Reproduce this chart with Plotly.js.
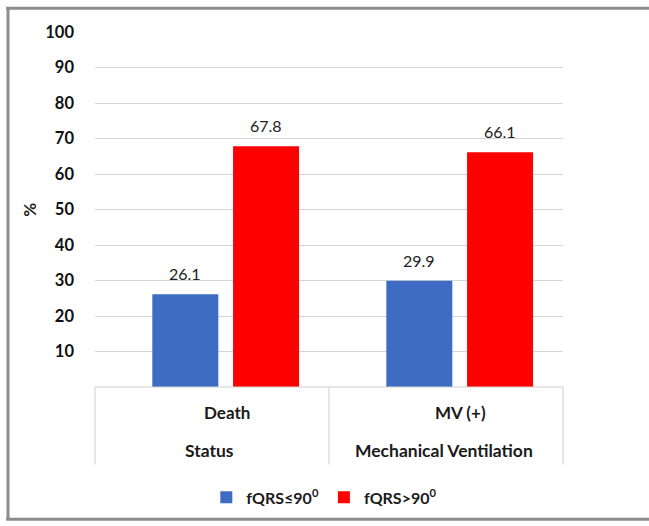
<!DOCTYPE html>
<html>
<head>
<meta charset="utf-8">
<script src="https://cdn.plot.ly/plotly-3.0.1.min.js"></script>
<style>
html,body{margin:0;padding:0;background:#fff;}
#chart{width:649px;height:526px;}
</style>
</head>
<body>
<div id="chart"></div>
<script>
// Data
var categories = ["Death", "MV (+)"];
var groupLabels = ["Status", "Mechanical Ventilation"];
var seriesNames = ["fQRS\u226490<sup>0</sup>", "fQRS>90<sup>0</sup>"];
var lowAxisValues = [26.1, 29.9];
var highAxisValues = [67.8, 66.1];
var yTicks = [10, 20, 30, 40, 50, 60, 70, 80, 90, 100];

var FONT = "Lato, 'Open Sans', sans-serif";
var barWidth = 0.282;
var offsets = [-0.255, 0.09];
var colors = ["#3e6cc2", "#ff0000"];
var seriesValues = [lowAxisValues, highAxisValues];

var traces = seriesValues.map(function (vals, i) {
  return {
    type: "bar",
    x: categories,
    y: vals,
    name: "<b>" + seriesNames[i] + "</b>",
    width: barWidth,
    offset: offsets[i],
    marker: {color: colors[i], line: {width: 0}},
    hoverinfo: "y"
  };
});

var annotations = [];
seriesValues.forEach(function (vals, i) {
  vals.forEach(function (v, j) {
    annotations.push({
      xref: "x", yref: "y",
      x: j + offsets[i] + barWidth / 2, y: v,
      text: String(v.toFixed(1)),
      showarrow: false, yanchor: "bottom", yshift: 9,
      font: {family: FONT, size: 16, color: "#222"}
    });
  });
});
var groupCenter = (offsets[0] + offsets[1] + barWidth) / 2;
categories.forEach(function (c, j) {
  annotations.push({
    xref: "x", yref: "paper", x: j + groupCenter + 0.005, y: -0.072,
    text: "<b>" + c + "</b>", showarrow: false, yanchor: "middle",
    font: {family: FONT, size: 17, color: "#1a1a1a"}
  });
  annotations.push({
    xref: "x", yref: "paper", x: j - 0.01, y: -0.18,
    text: "<b>" + groupLabels[j] + "</b>", showarrow: false, yanchor: "middle",
    font: {family: FONT, size: 17.5, color: "#1a1a1a"}
  });
});
annotations.push({
  xref: "paper", yref: "paper", x: -0.139, y: 0.499,
  text: "<b>%</b>", showarrow: false, textangle: -90,
  xanchor: "center", yanchor: "middle",
  font: {family: FONT, size: 17, color: "#1a1a1a"}
});

var tableColor = "#cfcfcf";
var borderColor = "#8c8c8c";
var shapes = [
  {type: "line", xref: "paper", yref: "paper", x0: 0, x1: 1, y0: 0, y1: 0, line: {color: tableColor, width: 1}},
  {type: "line", xref: "paper", yref: "paper", x0: 0, x1: 0, y0: 0, y1: -0.2185, line: {color: tableColor, width: 1}},
  {type: "line", xref: "paper", yref: "paper", x0: 0.5, x1: 0.5, y0: 0, y1: -0.2185, line: {color: tableColor, width: 1}},
  {type: "line", xref: "paper", yref: "paper", x0: 1, x1: 1, y0: 0, y1: -0.2185, line: {color: tableColor, width: 1}},
  {type: "line", xref: "paper", yref: "paper", x0: -0.19, x1: 1.19, y0: 1.0672, y1: 1.0672, line: {color: borderColor, width: 3}},
  {type: "line", xref: "paper", yref: "paper", x0: -0.1859, x1: -0.1859, y0: 1.07, y1: -0.3725, line: {color: borderColor, width: 3}},
  {type: "line", xref: "paper", yref: "paper", x0: -0.19, x1: 1.19, y0: -0.3725, y1: -0.3725, line: {color: borderColor, width: 3}}
];

var layout = {
  width: 649, height: 526,
  margin: {l: 95, r: 86, t: 32, b: 137, pad: 0},
  paper_bgcolor: "#ffffff",
  plot_bgcolor: "#ffffff",
  barmode: "overlay",
  showlegend: true,
  legend: {
    orientation: "h", x: 0.49, xanchor: "center", y: -0.311, yanchor: "middle",
    font: {family: FONT, size: 16, color: "#1a1a1a"},
    itemwidth: 30, traceorder: "normal", bgcolor: "rgba(0,0,0,0)"
  },
  xaxis: {
    type: "category", range: [-0.5, 1.5], showticklabels: false,
    showgrid: false, zeroline: false, showline: false, fixedrange: true
  },
  yaxis: {
    range: [0, 100], tickvals: yTicks, ticktext: yTicks.map(String),
    showgrid: true, gridcolor: "#d6d6d6", gridwidth: 1,
    zeroline: false, showline: false, ticks: "",
    ticklabelstandoff: 20,
    tickfont: {family: FONT, size: 16.5, color: "#111", weight: "bold"},
    fixedrange: true
  },
  annotations: annotations,
  shapes: shapes,
  font: {family: FONT}
};

Plotly.newPlot("chart", traces, layout, {displayModeBar: false, staticPlot: true});
</script>
</body>
</html>
